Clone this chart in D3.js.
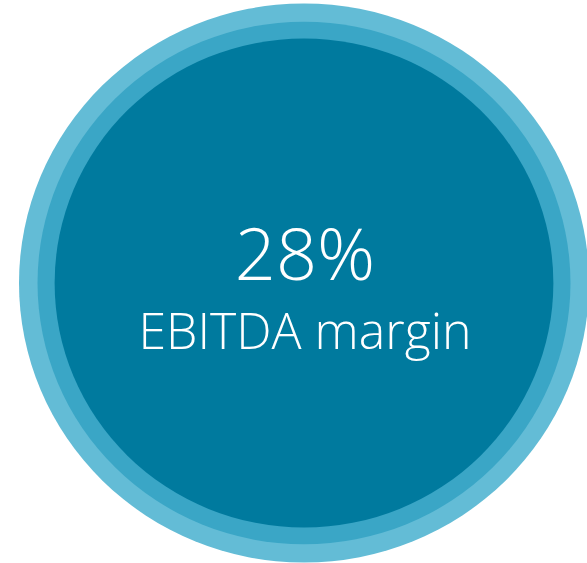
<!DOCTYPE html>
<html>
<head>
<meta charset="utf-8">
<script src="https://cdn.jsdelivr.net/npm/d3@7"></script>
<style>
  body { margin: 0; background: #fff; }
  svg { display: block; }
</style>
</head>
<body>
<script>
var width = 587, height = 563;

// rings from outside in
var ringNames = ["outer", "middle", "inner"];
var ringColors = ["#63bcd6", "#3aa6c6", "#007a9e"];
var ringSizes = [1, 0.935, 0.875];

var value = 28;
var label = "EBITDA margin";

var centerX = 304, centerY = 283;

var svg = d3.select("body").append("svg")
    .attr("width", width)
    .attr("height", height);

// radius scale, relative size -> pixels
var rx = d3.scaleLinear().domain([0, 1]).range([0, 285]);
var ry = d3.scaleLinear().domain([0, 1]).range([0, 279.5]);

svg.selectAll("ellipse")
    .data(ringNames)
    .enter().append("ellipse")
    .attr("cx", centerX)
    .attr("cy", centerY)
    .attr("rx", function(d, i){ return rx(ringSizes[i]); })
    .attr("ry", function(d, i){ return ry(ringSizes[i]); })
    .style("fill", function(d, i){ return ringColors[i]; });

//big number
svg.append("text")
    .attr("x", centerX + 1)
    .attr("y", 280)
    .attr("text-anchor", "middle")
    .style("font-family", "'Open Sans', sans-serif")
    .style("font-weight", 300)
    .style("font-size", "72px")
    .style("fill", "#fff")
    .text(value + "%");

svg.append("text")
    .attr("x", centerX + 1)
    .attr("y", 349)
    .attr("text-anchor", "middle")
    .style("font-family", "'Open Sans', sans-serif")
    .style("font-weight", 300)
    .style("font-size", "50px")
    .style("fill", "#fff")
    .text(label);
</script>
</body>
</html>
